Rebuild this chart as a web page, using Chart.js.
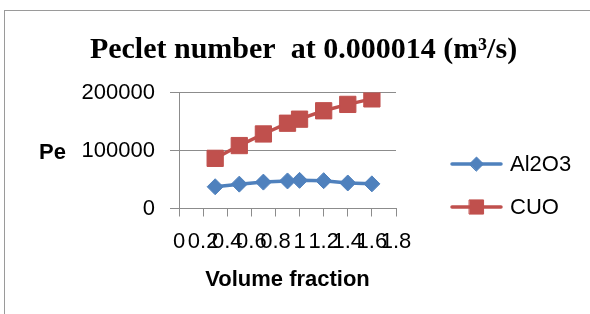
<!DOCTYPE html>
<html>
<head>
<meta charset="utf-8">
<script src="https://cdn.jsdelivr.net/npm/chart.js@4.4.0/dist/chart.umd.min.js"></script>
<style>
  html, body { margin: 0; padding: 0; background: #fff; }
  body { width: 590px; height: 314px; position: relative; overflow: hidden; }
  #frame { position: absolute; left: 4px; top: 10px; width: 640px; height: 360px; border: 1px solid #9a9a9a; }
  #pecletChart { position: absolute; left: 0; top: 0; }
</style>
</head>
<body>
<div id="frame"></div>
<canvas id="pecletChart" width="590" height="314"></canvas>
<script>
// ==============================
// PECLET NUMBER CHART
// ==============================

// Dados
const volumeFractions = [0.3, 0.5, 0.7, 0.9, 1.0, 1.2, 1.4, 1.6];
const al2o3Pe = [37500, 42000, 45500, 47500, 48500, 48000, 44000, 42500];
const cuoPe = [86500, 108500, 128500, 147000, 154000, 168500, 179500, 189000];
const seriesNames = ['Al2O3', 'CUO'];
const xTickLabels = ['0', '0.2', '0.4', '0.6', '0.8', '1', '1.2', '1.4', '1.6', '1.8'];
const yTickLabels = ['0', '100000', '200000'];

const chartTitle = 'Peclet number  at 0.000014 (m\u00B3/s)';
const yAxisTitle = 'Pe';
const xAxisTitle = 'Volume fraction';

const BLUE = '#4F81BD';
const RED = '#C0504D';
const AXIS_GRAY = '#8c8c8c';
const SANS = '"Liberation Sans", Arial, sans-serif';

document.addEventListener('DOMContentLoaded', function() {
    initializePecletChart();
});

function toPoints(xs, ys) {
    return xs.map((x, i) => ({ x: x, y: ys[i] }));
}

// titulo + "Pe" desenhados a mao (Excel deixa o titulo do eixo Y na horizontal)
const excelTextPlugin = {
    id: 'excelTexts',
    afterDraw(chart) {
        const ctx = chart.ctx;
        const area = chart.chartArea;
        ctx.save();
        ctx.fillStyle = '#000';
        ctx.font = 'bold 30px "Liberation Serif", "Times New Roman", serif';
        ctx.textAlign = 'center';
        ctx.textBaseline = 'alphabetic';
        ctx.fillText(chartTitle, 303.5, 58);

        ctx.font = 'bold 22px ' + SANS;
        ctx.textAlign = 'left';
        ctx.textBaseline = 'middle';
        ctx.fillText(yAxisTitle, 39, (area.top + area.bottom) / 2 + 2);
        ctx.restore();
    }
};

// legenda estilo Excel: linha + marcador
const sideLegendPlugin = {
    id: 'sideLegend',
    afterDraw(chart) {
        const ctx = chart.ctx;
        const rows = [164, 207];
        chart.data.datasets.forEach((ds, i) => {
            const y = rows[i];
            ctx.save();
            ctx.strokeStyle = ds.borderColor;
            ctx.lineWidth = 3.5;
            ctx.lineCap = 'round';
            ctx.beginPath();
            ctx.moveTo(452, y);
            ctx.lineTo(501, y);
            ctx.stroke();

            ctx.fillStyle = ds.pointBackgroundColor;
            ctx.strokeStyle = ds.pointBorderColor;
            ctx.lineWidth = 1;
            Chart.helpers.drawPoint(ctx, {
                pointStyle: ds.pointStyle,
                radius: ds.legendRadius,
                borderWidth: 1,
                rotation: 0
            }, 476.5, y);

            ctx.fillStyle = '#000';
            ctx.font = '22px ' + SANS;
            ctx.textAlign = 'left';
            ctx.textBaseline = 'middle';
            ctx.fillText(ds.label, 510, y + 1);
            ctx.restore();
        });
    }
};

function initializePecletChart() {
    const ctx = document.getElementById('pecletChart');
    if (!ctx) return;

    new Chart(ctx, {
        type: 'scatter',
        data: {
            datasets: [{
                label: seriesNames[0],
                data: toPoints(volumeFractions, al2o3Pe),
                showLine: true,
                borderColor: BLUE,
                backgroundColor: BLUE,
                borderWidth: 3.5,
                pointStyle: 'rectRot',
                pointRadius: 8,
                pointBackgroundColor: BLUE,
                pointBorderColor: BLUE,
                pointBorderWidth: 1,
                legendRadius: 7
            }, {
                label: seriesNames[1],
                data: toPoints(volumeFractions, cuoPe),
                showLine: true,
                borderColor: RED,
                backgroundColor: RED,
                borderWidth: 3.5,
                pointStyle: 'rect',
                pointRadius: 11.5,
                pointBackgroundColor: RED,
                pointBorderColor: RED,
                pointBorderWidth: 1,
                legendRadius: 10
            }]
        },
        options: {
            responsive: false,
            animation: false,
            devicePixelRatio: 1,
            layout: {
                padding: { top: 92.5, right: 194, bottom: 0, left: 0 }
            },
            plugins: {
                legend: { display: false },
                title: { display: false },
                tooltip: { enabled: false }
            },
            scales: {
                x: {
                    type: 'linear',
                    min: 0,
                    max: 1.8,
                    afterFit(scale) { scale.height = 105.5; },
                    ticks: {
                        stepSize: 0.2,
                        autoSkip: false,
                        maxRotation: 0,
                        minRotation: 0,
                        padding: 12,
                        color: '#000',
                        font: { family: SANS, size: 22 },
                        callback: (v, i) => xTickLabels[i]
                    },
                    grid: {
                        drawOnChartArea: false,
                        drawTicks: true,
                        tickLength: 8,
                        color: AXIS_GRAY
                    },
                    border: { display: true, color: AXIS_GRAY, width: 1 },
                    title: {
                        display: true,
                        text: xAxisTitle,
                        color: '#000',
                        font: { family: SANS, size: 22, weight: 'bold' },
                        padding: { top: 0, bottom: 21 }
                    }
                },
                y: {
                    type: 'linear',
                    min: 0,
                    max: 200000,
                    afterFit(scale) { scale.width = 179; },
                    ticks: {
                        stepSize: 100000,
                        padding: 15,
                        color: '#000',
                        font: { family: SANS, size: 22 },
                        callback: (v, i) => yTickLabels[i]
                    },
                    grid: {
                        drawOnChartArea: true,
                        drawTicks: true,
                        tickLength: 9,
                        color: AXIS_GRAY
                    },
                    border: { display: true, color: AXIS_GRAY, width: 1 }
                }
            }
        },
        plugins: [excelTextPlugin, sideLegendPlugin]
    });
}
</script>
</body>
</html>
